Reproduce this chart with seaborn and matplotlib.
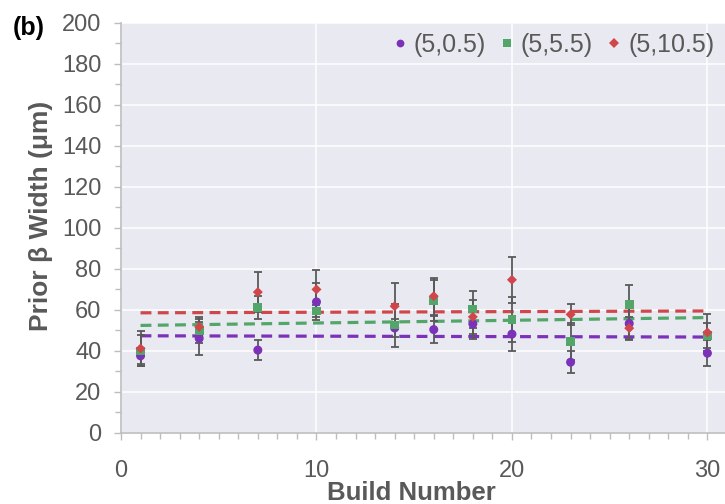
import numpy as np
import pandas as pd
import seaborn as sns
import matplotlib
matplotlib.use("Agg")
import matplotlib.pyplot as plt
from matplotlib.ticker import MultipleLocator
from matplotlib.lines import Line2D

# ---- data ----
build = [1, 4, 7, 10, 14, 16, 18, 20, 23, 26, 30]
labels = ["(5,0.5)", "(5,5.5)", "(5,10.5)"]
w_05 = [37.4, 45.9, 40.2, 63.7, 51.0, 50.2, 53.0, 48.0, 34.3, 53.2, 38.7]
e_05 = [4.0, 8.1, 5.0, 9.0, 4.3, 6.4, 7.5, 8.4, 5.5, 8.0, 6.3]
w_55 = [39.8, 49.6, 61.0, 59.3, 52.4, 64.2, 60.2, 55.1, 44.2, 62.3, 47.3]
e_55 = [7.6, 5.8, 5.5, 3.0, 10.5, 10.0, 9.0, 11.0, 9.0, 9.8, 6.0]
w_105 = [41.0, 51.5, 68.5, 69.8, 61.6, 66.5, 56.4, 74.5, 57.6, 50.9, 48.8]
e_105 = [8.5, 5.0, 9.8, 9.5, 11.2, 9.0, 8.2, 11.3, 5.1, 5.5, 8.9]
y_ticks = [0, 20, 40, 60, 80, 100, 120, 140, 160, 180, 200]
x_ticks = [0, 10, 20, 30]

series = [(labels[0], w_05, e_05), (labels[1], w_55, e_55), (labels[2], w_105, e_105)]
colors = {labels[0]: "#7B32B8", labels[1]: "#52A66A", labels[2]: "#CF474A"}
markers = {labels[0]: "o", labels[1]: "s", labels[2]: "D"}
msize = {labels[0]: 42, labels[1]: 40, labels[2]: 26}

df = pd.concat([pd.DataFrame({"build": build, "width": w, "err": e, "series": name})
                for name, w, e in series], ignore_index=True)

sns.set_theme(style="darkgrid")
plt.rcParams["font.family"] = ["Liberation Sans", "DejaVu Sans"]
grey = "#595959"

fig, ax = plt.subplots(figsize=(7.25, 5.04), dpi=100)
fig.subplots_adjust(left=121 / 725, right=1.0, bottom=1 - 432.5 / 504, top=1 - 22.5 / 504)
ax.set_facecolor("#E9E9F1")

for name, w, e in series:
    sub = df[df["series"] == name]
    sns.regplot(data=sub, x="build", y="width", scatter=False, ci=None, ax=ax,
                color=colors[name], truncate=True,
                line_kws=dict(ls=(0, (3.4, 2.0)), lw=2.3, zorder=1.5))

for name, w, e in series:
    sub = df[df["series"] == name]
    ax.errorbar(sub["build"], sub["width"], yerr=sub["err"], fmt="none",
                ecolor=grey, elinewidth=1.3, capsize=2.8, capthick=1.3, zorder=2)

for name, w, e in series:
    sub = df[df["series"] == name]
    sns.scatterplot(data=sub, x="build", y="width", ax=ax, color=colors[name],
                    marker=markers[name], s=msize[name], edgecolor="none",
                    linewidth=0, zorder=3, legend=False)

ax.set_xlim(0, 30.9)
ax.set_ylim(0, 200)
ax.set_xticks(x_ticks)
ax.set_yticks(y_ticks)
ax.xaxis.set_minor_locator(MultipleLocator(1))
ax.yaxis.set_minor_locator(MultipleLocator(10))
ax.grid(which="major", color="white", lw=1.1)
ax.grid(which="minor", visible=False)

for s in ["top", "right"]:
    ax.spines[s].set_visible(False)
for s in ["left", "bottom"]:
    ax.spines[s].set_visible(True)
    ax.spines[s].set_color("#BDBDBD")
    ax.spines[s].set_linewidth(1.2)

ax.tick_params(which="both", left=True, bottom=True, direction="out",
               color="#BDBDBD", width=1.0)
ax.tick_params(which="major", length=5, labelsize=17, labelcolor=grey)
ax.tick_params(axis="y", which="major", pad=9)
ax.tick_params(axis="x", which="major", pad=15)
ax.tick_params(which="minor", length=4.5)

ax.set_xlabel("Build Number", fontsize=18.5, fontweight="bold", color=grey)
ax.set_ylabel("Prior β Width (μm)", fontsize=19, fontweight="bold", color=grey)
ax.xaxis.set_label_coords(0.48, -0.119)
ax.yaxis.set_label_coords(-0.112, 0.528)

handles = [Line2D([], [], ls="none", marker=markers[n], color=colors[n],
                  markersize=(5.6 if n != labels[2] else 4.6), markeredgewidth=0)
           for n in labels]
leg = ax.legend(handles, labels, loc="center right", ncol=3, frameon=False,
                bbox_to_anchor=(0.985, 0.911), bbox_transform=fig.transFigure,
                borderaxespad=0, borderpad=0, handletextpad=0.15, handlelength=0.8,
                columnspacing=0.45, fontsize=18)
for t in leg.get_texts():
    t.set_color(grey)

fig.text(0.017, 0.945, "(b)", fontsize=18, fontweight="bold", color="black",
         ha="left", va="center")

fig.savefig("out.png", dpi=100)
